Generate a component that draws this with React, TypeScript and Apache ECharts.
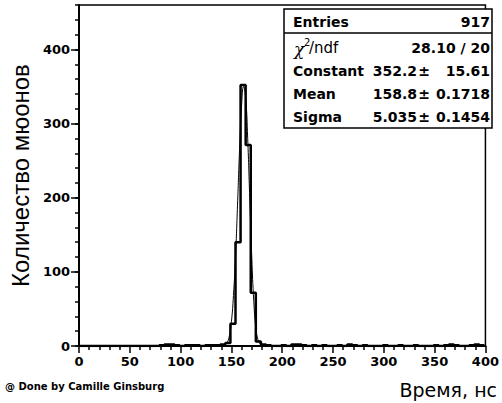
import React, { useEffect, useRef } from "react";
import * as echarts from "echarts";

// Histogram binning: 80 bins of 5 ns
const histStart = -1;
const binWidth = 5;
const counts = [
  0, 0, 0, 0, 0, 0, 0, 0, 0, 0, 0, 0, 0, 0, 0, 0,
  1, 2, 2, 1,
  0, 1, 1, 1, 0, 1, 1, 1,
  2, 4, 30, 140, 352, 271, 72, 6, 2,
  1, 0, 0, 1, 0, 2, 2, 1, 0, 1, 0, 1, 0,
  0, 1, 0, 2, 1, 0, 1, 0, 0, 0,
  1, 0, 0, 1, 0, 0, 1, 0, 0, 0,
  1, 0, 1, 2, 1, 0, 0, 1, 2, 1,
];

// Gaussian fit curve
const fitX = [144, 146, 148, 150, 152, 154, 156, 158, 160, 162, 164, 166, 168, 170, 172, 174, 176, 178];
const fitY = [2, 5, 14, 33, 68, 120, 190, 265, 325, 350, 335, 280, 200, 120, 60, 25, 9, 3];

const yLabelValues = [0, 100, 200, 300, 400];

// Stats box
const entriesValue = "917";
const chi2Value = "28.10 / 20";
const statNames = ["Constant", "Mean", "Sigma"];
const statValues = ["352.2", "158.8", "5.035"];
const statErrors = ["15.61", "0.1718", "0.1454"];

const xTitle = "Время, нс";
const yTitle = "Количество мюонов";
const credit = "@ Done by Camille Ginsburg";

export default function App() {
  const ref = useRef<HTMLDivElement>(null);
  useEffect(() => {
    document.body.style.margin = "0";
    const chart = echarts.init(ref.current!, null, { renderer: "svg" });
    const histData: number[][] = counts.map((c, i) => [histStart + i * binWidth, c]);
    histData.push([histStart + counts.length * binWidth, counts[counts.length - 1]]);
    const fitData = fitX.map((x, i) => [x, fitY[i]]);

    const boldFont = "bold 14px 'DejaVu Sans'";
    const rowY = [22, 48, 71, 94, 117];
    const texts: any[] = [];
    const t = (text: string, x: number, y: number, font: string, align = "left") =>
      texts.push({
        type: "text",
        z: 110,
        style: { text, x, y, font, fill: "#000", textAlign: align, textVerticalAlign: "middle" },
      });
    t("Entries", 293, rowY[0], boldFont);
    t(entriesValue, 490, rowY[0], boldFont, "right");
    t("χ", 294, rowY[1] + 1, "italic 17px 'DejaVu Serif'");
    t("2", 304, rowY[1] - 6, "10px 'DejaVu Sans'");
    t("/ndf", 309, rowY[1], "15px 'DejaVu Sans'");
    t(chi2Value, 490, rowY[1], boldFont, "right");
    statNames.forEach((n, i) => {
      t(n, 293, rowY[i + 2], boldFont);
      t(statValues[i], 417, rowY[i + 2], boldFont, "right");
      t("±", 424, rowY[i + 2], boldFont, "center");
      t(statErrors[i], 490, rowY[i + 2], boldFont, "right");
    });
    t(xTitle, 497, 390, "19px 'DejaVu Sans'", "right");
    t(credit, 5, 386, "bold 10px 'DejaVu Sans'");

    const tickStyle = { color: "#000", width: 1.5 };
    const labelStyle = {
      color: "#000",
      fontFamily: "DejaVu Sans",
      fontWeight: "bold" as const,
      fontSize: 13,
    };

    chart.setOption({
      animation: false,
      backgroundColor: "#fff",
      grid: {
        left: 74,
        right: 10,
        top: 5,
        bottom: 57,
        show: true,
        borderColor: "#000",
        borderWidth: 1.5,
        backgroundColor: "transparent",
      },
      xAxis: {
        type: "value",
        min: 0,
        max: 400,
        interval: 50,
        axisLine: { show: true, onZero: false, lineStyle: { color: "#000", width: 2 } },
        axisTick: { show: true, length: 7, lineStyle: tickStyle },
        minorTick: { show: true, splitNumber: 5, length: 4, lineStyle: tickStyle },
        axisLabel: { ...labelStyle, margin: 9, showMaxLabel: true },
        splitLine: { show: false },
      },
      yAxis: [
        {
          type: "value",
          min: 0,
          max: 460,
          interval: 20,
          position: "left",
          name: yTitle,
          nameLocation: "middle",
          nameRotate: 90,
          nameGap: 46,
          nameTextStyle: { color: "#000", fontFamily: "Liberation Sans", fontSize: 24 },
          axisLine: { show: true, onZero: false, lineStyle: { color: "#000", width: 2 } },
          axisTick: { show: true, length: 4, lineStyle: tickStyle },
          axisLabel: {
            ...labelStyle,
            margin: 9,
            customValues: yLabelValues,
            formatter: (v: number) => (v % 100 === 0 ? String(v) : ""),
          },
          splitLine: { show: false },
        },
        {
          type: "value",
          min: 0,
          max: 460,
          interval: 20,
          position: "left",
          offset: 0,
          axisLine: { show: false },
          axisTick: { show: true, length: 8, lineStyle: tickStyle, customValues: yLabelValues },
          axisLabel: { show: false },
          splitLine: { show: false },
        },
      ],
      series: [
        {
          type: "line",
          data: histData,
          step: "end",
          symbol: "none",
          lineStyle: { color: "#000", width: 2.5 },
          z: 3,
        },
        {
          type: "line",
          data: fitData,
          smooth: true,
          symbol: "none",
          lineStyle: { color: "#000", width: 1 },
          z: 4,
        },
      ],
      graphic: [
        {
          type: "rect",
          z: 100,
          shape: { x: 284, y: 9, width: 208, height: 119 },
          style: { fill: "#fff", stroke: "#000", lineWidth: 1.5 },
        },
        {
          type: "line",
          z: 101,
          shape: { x1: 284, y1: 33, x2: 492, y2: 33 },
          style: { stroke: "#000", lineWidth: 1.5 },
        },
        ...texts,
      ],
    });
    return () => chart.dispose();
  }, []);
  return (
    <div
      ref={ref}
      style={{ position: "absolute", left: 0, top: 0, width: 502, height: 403 }}
    />
  );
}
